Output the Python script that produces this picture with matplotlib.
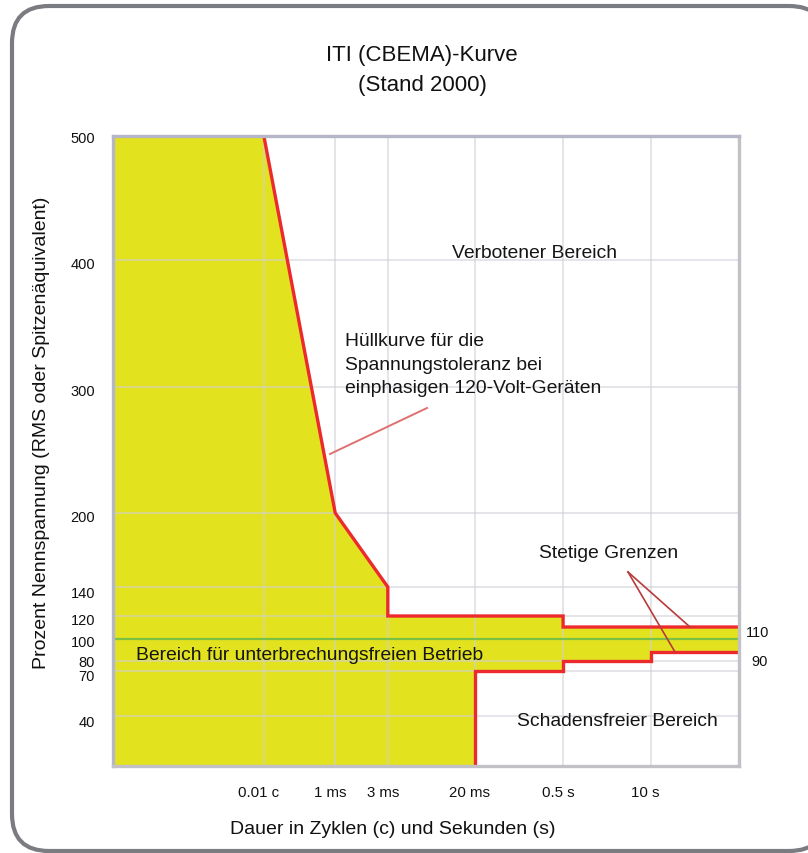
import numpy as np
import matplotlib
matplotlib.use("Agg")
import matplotlib.pyplot as plt
import matplotlib.transforms as mtransforms
from matplotlib.patches import FancyBboxPatch

plt.rcParams['font.family'] = ['Liberation Sans', 'DejaVu Sans']

# ---------------- data ----------------
# x ticks: durations in seconds (0.01 cycle at 60 Hz = 1/6000 s)
X_TICK_T = [1/6000, 1e-3, 3e-3, 0.02, 0.5, 10]
X_TICK_LABELS = ["0.01 c", "1 ms", "3 ms", "20 ms", "0.5 s", "10 s"]
Y_TICKS = [500, 400, 300, 200, 140, 120, 100, 80, 70, 40]
Y_TICK_LABELS = ["500", "400", "300", "200", "140", "120", "100", "80", "70", "40"]

# upper envelope (overvoltage) of the ITI curve
UPPER_T = [1/6000, 1e-3, 3e-3, 3e-3, 0.5, 0.5, 100]
UPPER_V = [500, 200, 140, 120, 120, 110, 110]
# lower envelope (undervoltage)
LOWER_T = [0.02, 0.02, 0.5, 0.5, 10, 10, 100]
LOWER_V = [0, 70, 70, 80, 80, 90, 90]
NOMINAL = 100
T_MIN, T_MAX = 1e-5, 100
V_MIN, V_MAX = 0, 500

# --------------- non-uniform axis scales (as in the drawing) ---------------
X_SCALE_LOGT = [np.log10(T_MIN)] + [np.log10(t) for t in X_TICK_T] + [np.log10(T_MAX)]
X_SCALE_POS = [0.0, 0.241, 0.355, 0.439, 0.578, 0.719, 0.859, 1.0]
Y_SCALE_V = [0, 40, 70, 80, 90, 100, 110, 120, 140, 200, 300, 400, 500]
Y_SCALE_POS = [0.0, 0.0794, 0.1508, 0.1667, 0.181, 0.2016, 0.2206, 0.2381,
               0.2841, 0.4016, 0.6016, 0.8032, 1.0]
# vertical pixel nudges of the y tick labels (as printed)
Y_LABEL_DY = [-2, -4, -4, -4, -6, -4, -3, -1, -5, -6]


def xf(t):
    t = np.clip(np.asarray(t, dtype=float), 1e-12, None)
    return np.interp(np.log10(t), X_SCALE_LOGT, X_SCALE_POS)


def xi(p):
    return 10 ** np.interp(np.asarray(p, dtype=float), X_SCALE_POS, X_SCALE_LOGT)


def yf(v):
    return np.interp(np.asarray(v, dtype=float), Y_SCALE_V, Y_SCALE_POS)


def yi(p):
    return np.interp(np.asarray(p, dtype=float), Y_SCALE_POS, Y_SCALE_V)


W, H = 808, 854
fig = plt.figure(figsize=(W / 100, H / 100), dpi=100)

# rounded outer frame (right side runs off the picture)
frame = FancyBboxPatch((12 / 100, (H - 852) / 100), (826 - 12) / 100, (852 - 7) / 100,
                       boxstyle="round,pad=0,rounding_size=0.37",
                       transform=fig.dpi_scale_trans, facecolor='white',
                       edgecolor='#7b7b82', linewidth=3.0, clip_on=False, zorder=-5)
fig.patches.append(frame)

L, R, T, B = 113, 739, 137, 767
ax = fig.add_axes([L / W, (H - B) / H, (R - L) / W, (B - T) / H])
ax.set_zorder(1)
ax.set_xscale('function', functions=(xf, xi))
ax.set_yscale('function', functions=(yf, yi))
ax.set_xlim(T_MIN, T_MAX)
ax.set_ylim(V_MIN, V_MAX)
ax.set_facecolor('white')

# fill
fill_t = [T_MIN] + UPPER_T + LOWER_T[::-1] + [T_MIN]
fill_v = [V_MAX] + UPPER_V + LOWER_V[::-1] + [V_MIN]
ax.fill(fill_t, fill_v, color='#e3e21f', zorder=1, lw=0)

# grid
ax.set_xticks(X_TICK_T)
ax.set_yticks([v for v in Y_TICKS if v != NOMINAL])
ax.tick_params(length=0, labelbottom=False, labelleft=False)
ax.grid(True, color='#cfcfd8', alpha=0.6, lw=1.3, zorder=2)
ax.set_axisbelow(False)
for gl in ax.get_xgridlines() + ax.get_ygridlines():
    gl.set_zorder(2)

# nominal line
ax.axhline(NOMINAL, color='#7cc242', lw=1.6, zorder=3)

# envelope lines
ax.plot(UPPER_T, UPPER_V, color='#ec2a2e', lw=2.4, zorder=4, solid_joinstyle='miter')
ax.plot(LOWER_T, LOWER_V, color='#ec2a2e', lw=2.4, zorder=4, solid_joinstyle='miter')

for side, sp in ax.spines.items():
    sp.set_linewidth(2.4)
    sp.set_color('#b6b6c9' if side in ('left', 'top') else '#c2c2c6')
    sp.set_zorder(5)

# tick labels (manual, to match offsets)
yblend = mtransforms.blended_transform_factory(ax.transAxes, ax.transData)
for v, lab, dy in zip(Y_TICKS, Y_TICK_LABELS, Y_LABEL_DY):
    tr = yblend + mtransforms.ScaledTranslation(-18 / 100, dy / 100, fig.dpi_scale_trans)
    ax.text(0, v, lab, transform=tr, ha='right', va='center', fontsize=10.5,
            color='#111111', clip_on=False)
xtrans = mtransforms.blended_transform_factory(ax.transData, ax.transAxes) + \
    mtransforms.ScaledTranslation(-5 / 100, -26 / 100, fig.dpi_scale_trans)
for t, lab in zip(X_TICK_T, X_TICK_LABELS):
    ax.text(t, 0, lab, transform=xtrans, ha='center', va='center', fontsize=10.8,
            color='#111111', clip_on=False)


def fx(px):
    return (px - L) / (R - L)


def fy(py):
    return (B - py) / (B - T)


tk = dict(transform=ax.transAxes, fontsize=13.9, color='#151515', clip_on=False, zorder=6)
ax.text(fx(534), fy(253), "Verbotener Bereich", ha='center', va='center', **tk)
ax.text(fx(345), fy(365), "Hüllkurve für die\nSpannungstoleranz bei\neinphasigen 120-Volt-Geräten",
        ha='left', va='center', linespacing=1.5, **tk)
ax.text(fx(609), fy(553), "Stetige Grenzen", ha='center', va='center', **tk)
ax.text(fx(136), fy(656), "Bereich für unterbrechungsfreien Betrieb", ha='left', va='center', **tk)
ax.text(fx(617), fy(722), "Schadensfreier Bereich", ha='center', va='center', **tk)
ax.text(fx(746), fy(633), "110", ha='left', va='center', transform=ax.transAxes,
        fontsize=10.5, color='#111111', clip_on=False)
ax.text(fx(751), fy(662), "90", ha='left', va='center', transform=ax.transAxes,
        fontsize=10.5, color='#111111', clip_on=False)

# pointer lines
ax.plot([fx(427), fx(330)], [fy(409), fy(455)], transform=ax.transAxes,
        color='#e07070', lw=1.4, zorder=6, clip_on=False)
ax.plot([fx(628), fx(690)], [fy(573), fy(628)], transform=ax.transAxes,
        color='#b83a3a', lw=1.2, zorder=6, clip_on=False)
ax.plot([fx(628), fx(675)], [fy(573), fy(653)], transform=ax.transAxes,
        color='#b83a3a', lw=1.2, zorder=6, clip_on=False)

# titles and axis labels
fig.text(422 / W, 1 - 55 / H, "ITI (CBEMA)-Kurve", ha='center', va='center', fontsize=16, color='#111111')
fig.text(422 / W, 1 - 85 / H, "(Stand 2000)", ha='center', va='center', fontsize=16, color='#111111')
fig.text(393 / W, 1 - 830 / H, "Dauer in Zyklen (c) und Sekunden (s)", ha='center', va='center',
         fontsize=14, color='#111111')
fig.text(42 / W, 1 - 433 / H, "Prozent Nennspannung (RMS oder Spitzenäquivalent)", ha='center',
         va='center', rotation=90, fontsize=14, color='#111111')

fig.savefig("out.png", dpi=100, facecolor='white')
